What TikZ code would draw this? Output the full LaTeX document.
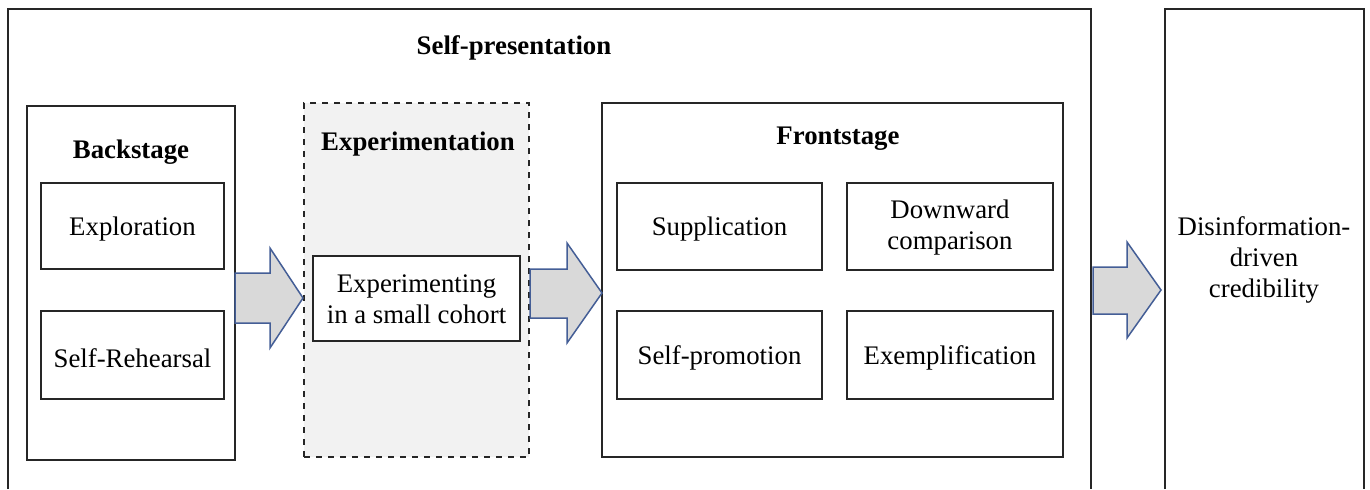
\documentclass[tikz,border=0pt]{standalone}
\usepackage{fontspec}
\setmainfont{Liberation Serif}
\usetikzlibrary{fit}
\definecolor{arrowline}{RGB}{68,94,150}
\definecolor{arrowfill}{RGB}{217,217,217}
\definecolor{expfill}{RGB}{242,242,242}
\begin{document}
\begin{tikzpicture}[x=0.5pt,y=-0.5pt,
  box/.style={draw=black!85, line width=0.75pt, inner sep=0pt, align=center, font=\fontsize{13.4}{15}\selectfont},
  title/.style={font=\fontsize{13.4}{15}\selectfont\bfseries, inner sep=0pt},
  blockarrow/.style={draw=arrowline, fill=arrowfill, line width=0.75pt, line join=miter},
  lbl/.style={font=\fontsize{13.4}{15.5}\selectfont, align=center, inner sep=0pt}]
\useasboundingbox (0,0) rectangle (1370,489);
% outer containers (open at bottom)
\draw[line width=1pt, black!85] (8,489) -- (8,9) -- (1091,9) -- (1091,489);
\draw[line width=1pt, black!85] (1165,489) -- (1165,9) -- (1364,9) -- (1364,489);
\node[title] (selfpres) at (514,48) {Self-presentation};
% backstage
\node[box, fit={(27,106) (235,460)}] (back) {};
\node[title] (backt) at (131,152) {Backstage};
\node[box, fit={(41,183) (224,269)}] (explor) {};
\node[lbl] at ([yshift=-1.5pt]explor.center) {Exploration};
\node[box, fit={(41,311) (224,399)}] (rehear) {};
\node[lbl] at ([yshift=-1.5pt]rehear.center) {Self-Rehearsal};
% experimentation
\node[box, dashed, fill=expfill, fit={(304,103) (529,457)}] (exper) {};
\node[title] (expert) at (418,144) {Experimentation};
\node[box, fill=white, fit={(313,256) (520,341)}] (cohort) {};
\node[lbl] at ([yshift=-0.5pt]cohort.center) {Experimenting\\in a small cohort};
% frontstage
\node[box, fit={(602,103) (1063,457)}] (front) {};
\node[title] (frontt) at (838,139) {Frontstage};
\node[box, fit={(617,183) (822,270)}] (suppl) {};
\node[lbl] at ([yshift=-1.5pt]suppl.center) {Supplication};
\node[box, fit={(847,183) (1053,270)}] (down) {};
\node[lbl] at ([yshift=-0.5pt]down.center) {Downward\\comparison};
\node[box, fit={(617,311) (822,399)}] (promo) {};
\node[lbl] at ([yshift=-1.5pt]promo.center) {Self-promotion};
\node[box, fit={(847,311) (1053,399)}] (exempl) {};
\node[lbl] at ([yshift=-1.5pt]exempl.center) {Exemplification};
% outcome
\node[lbl] (cred) at (1264,260) {Disinformation-\\driven\\credibility};
% block arrows
\draw[blockarrow] (235,273) -- (270,273) -- (270,248) -- (303,298) -- (270,348) -- (270,323) -- (235,323) -- cycle;
\draw[blockarrow] (530,269) -- (567,269) -- (567,243) -- (602,293) -- (567,343) -- (567,318) -- (530,318) -- cycle;
\draw[blockarrow] (1093,267) -- (1127,267) -- (1127,242) -- (1161,290) -- (1127,338) -- (1127,314) -- (1093,314) -- cycle;
\end{tikzpicture}
\end{document}
